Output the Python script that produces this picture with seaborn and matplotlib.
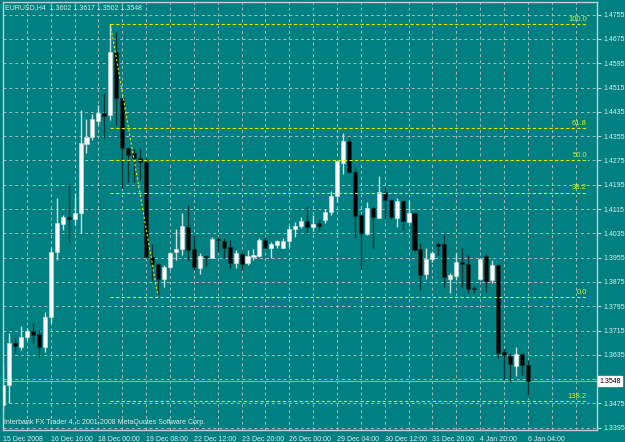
import numpy as np
import pandas as pd
import matplotlib
matplotlib.use('Agg')
import matplotlib.pyplot as plt
import seaborn as sns

# EURUSD H4 candles
opens = [1.3470, 1.3536, 1.3675, 1.3662, 1.3693, 1.3714, 1.3704, 1.3662, 1.3761, 1.3975,
         1.4066, 1.4088, 1.4081, 1.4101, 1.4328, 1.4351, 1.4406, 1.4430, 1.4425, 1.4631,
         1.4480, 1.4317, 1.4299, 1.4282, 1.4269, 1.3956, 1.3934, 1.3885, 1.3923, 1.3975,
         1.3982, 1.4055, 1.3984, 1.3922, 1.3961, 1.3955, 1.4016, 1.4011, 1.3989, 1.3938,
         1.3966, 1.3936, 1.3956, 1.3960, 1.4013, 1.3988, 1.3997, 1.3988, 1.4011, 1.4048,
         1.4059, 1.4076, 1.4055, 1.4068, 1.4079, 1.4104, 1.4158, 1.4268, 1.4340, 1.4236,
         1.4095, 1.4032, 1.4119, 1.4087, 1.4170, 1.4145, 1.4085, 1.4143, 1.4073, 1.4101,
         1.3983, 1.3901, 1.3951, 1.4000, 1.4000, 1.3885, 1.3896, 1.3942, 1.3935, 1.3856,
         1.3886, 1.3960, 1.3881, 1.3931, 1.3645, 1.3632, 1.3599, 1.3638, 1.3602]
highs = [1.3602, 1.3707, 1.3690, 1.3730, 1.3723, 1.3740, 1.3717, 1.3777, 1.3988, 1.4150,
         1.4095, 1.4198, 1.4169, 1.4441, 1.4411, 1.4428, 1.4458, 1.4498, 1.4724, 1.4699,
         1.4482, 1.4319, 1.4312, 1.4312, 1.4282, 1.4000, 1.3937, 1.3931, 1.3973, 1.4048,
         1.4103, 1.4127, 1.4030, 1.3969, 1.3964, 1.4023, 1.4024, 1.4019, 1.4013, 1.3980,
         1.3975, 1.3980, 1.3983, 1.4019, 1.4024, 1.4008, 1.4013, 1.4019, 1.4059, 1.4073,
         1.4088, 1.4121, 1.4095, 1.4082, 1.4114, 1.4175, 1.4276, 1.4364, 1.4353, 1.4253,
         1.4098, 1.4137, 1.4122, 1.4224, 1.4189, 1.4147, 1.4150, 1.4145, 1.4145, 1.4103,
         1.4004, 1.3986, 1.3977, 1.4008, 1.4030, 1.3905, 1.3969, 1.3986, 1.3964, 1.3862,
         1.3955, 1.3967, 1.3947, 1.3933, 1.3653, 1.3642, 1.3662, 1.3640, 1.3617]
lows = [1.3447, 1.3476, 1.3641, 1.3651, 1.3684, 1.3674, 1.3629, 1.3645, 1.3741, 1.3947,
        1.4046, 1.4008, 1.4063, 1.4035, 1.4299, 1.4342, 1.4392, 1.4348, 1.4408, 1.4392,
        1.4183, 1.4205, 1.4205, 1.4211, 1.3954, 1.3879, 1.3826, 1.3859, 1.3918, 1.3947,
        1.3964, 1.3947, 1.3914, 1.3901, 1.3927, 1.3954, 1.3975, 1.3953, 1.3920, 1.3920,
        1.3914, 1.3931, 1.3947, 1.3956, 1.3986, 1.3953, 1.3988, 1.3986, 1.3991, 1.4024,
        1.4052, 1.4037, 1.4044, 1.4044, 1.4070, 1.4095, 1.4139, 1.4229, 1.4233, 1.4019,
        1.3917, 1.4030, 1.3988, 1.4085, 1.4081, 1.4081, 1.4057, 1.4046, 1.4070, 1.3978,
        1.3850, 1.3886, 1.3942, 1.3964, 1.3857, 1.3840, 1.3881, 1.3857, 1.3840, 1.3841,
        1.3881, 1.3843, 1.3871, 1.3626, 1.3554, 1.3547, 1.3565, 1.3569, 1.3502]
closes = [1.3536, 1.3674, 1.3664, 1.3695, 1.3714, 1.3700, 1.3662, 1.3761, 1.3975, 1.4068,
          1.4088, 1.4081, 1.4101, 1.4332, 1.4351, 1.4411, 1.4430, 1.4422, 1.4631, 1.4480,
          1.4315, 1.4293, 1.4284, 1.4269, 1.3956, 1.3933, 1.3885, 1.3923, 1.3969, 1.3984,
          1.4059, 1.3980, 1.3923, 1.3960, 1.3956, 1.4016, 1.4013, 1.3988, 1.3936, 1.3969,
          1.3934, 1.3960, 1.3964, 1.4013, 1.3988, 1.4000, 1.4011, 1.4011, 1.4048, 1.4059,
          1.4076, 1.4055, 1.4066, 1.4060, 1.4104, 1.4158, 1.4273, 1.4339, 1.4236, 1.4093,
          1.4035, 1.4118, 1.4090, 1.4172, 1.4145, 1.4088, 1.4143, 1.4077, 1.4101, 1.3980,
          1.3899, 1.3951, 1.3969, 1.3993, 1.3890, 1.3898, 1.3941, 1.3934, 1.3853, 1.3851,
          1.3952, 1.3879, 1.3931, 1.3642, 1.3634, 1.3604, 1.3637, 1.3601, 1.3548]

date_labels = ["15 Dec 2008", "16 Dec 16:00", "18 Dec 00:00", "19 Dec 08:00",
               "22 Dec 12:00", "23 Dec 20:00", "26 Dec 00:00", "29 Dec 04:00",
               "30 Dec 12:00", "31 Dec 20:00", "4 Jan 20:00", "6 Jan 04:00"]
price_ticks = [1.3395, 1.3475, 1.3555, 1.3635, 1.3715, 1.3795, 1.3875, 1.3955, 1.4035,
               1.4115, 1.4195, 1.4275, 1.4355, 1.4435, 1.4515, 1.4595, 1.4675, 1.4755]
fib_labels = ["100.0", "61.8", "50.0", "38.2", "0.0", "138.2"]
fib_ratios = [1.0, 0.618, 0.5, 0.382, 0.0, -0.382]
fib_start, fib_end = 18, 26     # bars of the swing high and low
bid = 1.3548

df = pd.DataFrame({'open': opens, 'high': highs, 'low': lows, 'close': closes})
df['bar'] = np.arange(len(df))
df['up'] = df['close'] >= df['open']

BG = '#008080'
GRID = '#a8bcbc'
FRAME = '#c4d0d0'
TXT = '#e4ecec'
FIB = '#e6e600'
FIBTXT = '#dcec30'

sns.set_style('dark', rc={'axes.facecolor': BG, 'figure.facecolor': BG,
                          'axes.edgecolor': FRAME, 'axes.grid': False})
plt.rcParams['font.family'] = ['Liberation Sans', 'DejaVu Sans']

fig = plt.figure(figsize=(6.25, 4.42), dpi=100)
ax = fig.add_axes([3 / 625, 12 / 442, 594 / 625, 428 / 442])
ax.set_xlim(0.03, 99.6)
ax.set_ylim(1.33874, 1.47968)

# grid
for b in range(4, 100, 4):
    ax.axvline(b, color=GRID, lw=0.7, ls=(0, (3, 3)), zorder=0)
for p in price_ticks:
    ax.axhline(p, color=GRID, lw=0.7, ls=(0, (3, 3)), zorder=0)

# bid line
ax.axhline(bid, color='#9aa8a8', lw=0.8, zorder=1)

# candles
up = df[df['up']]
dn = df[~df['up']]
ax.vlines(up['bar'], up['low'], up['high'], color='#d0e0e0', lw=1, zorder=2)
ax.vlines(dn['bar'], dn['low'], dn['high'], color='#0e3434', lw=1, zorder=2)
ax.bar(up['bar'], up['close'] - up['open'], bottom=up['open'], width=0.68,
       color='white', edgecolor='#d0e0e0', lw=0.4, zorder=3)
ax.bar(dn['bar'], dn['open'] - dn['close'], bottom=dn['close'], width=0.68,
       color='black', edgecolor='#0e3434', lw=0.4, zorder=3)

# fibonacci retracement
hi = highs[fib_start]
lo = lows[fib_end]
for lab, r in zip(fib_labels, fib_ratios):
    lvl = lo + r * (hi - lo)
    ax.hlines(lvl, fib_start, 97.9, color=BG, lw=2.2, zorder=1.5)
    ax.hlines(lvl, fib_start, 97.9, color=FIB, lw=0.8, ls=(0, (3, 2)), zorder=4)
    ax.text(97.9, lvl + 0.0004, lab, color=FIBTXT, fontsize=5.5, ha='right', va='bottom', zorder=5)
trend = pd.DataFrame({'bar': [fib_start, fib_end], 'price': [hi, lo]})
sns.lineplot(data=trend, x='bar', y='price', ax=ax, color=FIB, lw=0.8,
             linestyle=(0, (2, 2)), zorder=4)

# axes
ax.yaxis.tick_right()
ax.set_yticks(price_ticks)
# the bid box covers the 1.3555 label
ax.set_yticklabels(["" if abs(p - bid) < 0.002 else f"{p:.4f}" for p in price_ticks])
ax.set_xticks(np.arange(0, 89, 8))
ax.set_xticklabels(date_labels, ha='left')
ax.tick_params(axis='both', colors=FRAME, labelcolor=TXT, labelsize=5,
               direction='out', length=3, width=0.8, pad=1)
ax.tick_params(axis='y', pad=2)
ax.set_xlabel('')
ax.set_ylabel('')
for s in ax.spines.values():
    s.set_color(FRAME)
    s.set_linewidth(1)

ax.annotate(f"{bid:.4f}", xy=(1.004, bid), xycoords=('axes fraction', 'data'),
            ha='left', va='center', fontsize=5, color='black', annotation_clip=False,
            bbox=dict(boxstyle='square,pad=0.2', fc='white', ec='white'))

fig.text(5 / 625, 1 - 8 / 442, "EURUSD,H4  1.3602 1.3617 1.3502 1.3548",
         color=TXT, fontsize=5, va='center', ha='left')
fig.text(4 / 625, 1 - 423 / 442, "Interbank FX Trader 4, c 2001-2008 MetaQuotes Software Corp.",
         color=TXT, fontsize=5, va='center', ha='left')

fig.savefig('out.png', dpi=100, facecolor=BG)
